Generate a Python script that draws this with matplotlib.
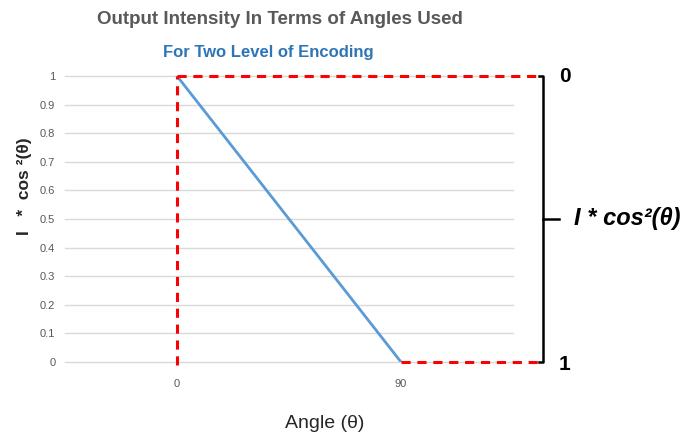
import matplotlib.pyplot as plt
import numpy as np

angles = ["0", "90"]
intensity = [1, 0]
y_ticks = [0, 0.1, 0.2, 0.3, 0.4, 0.5, 0.6, 0.7, 0.8, 0.9, 1]
level_labels = ["0", "1"]

plt.rcParams['font.family'] = ['Liberation Sans', 'DejaVu Sans']

fig = plt.figure(figsize=(6.92, 4.41), dpi=100)
ax = fig.add_axes([65 / 692, 1 - 362 / 441, 448 / 692, 286 / 441])

x = np.arange(len(angles))
ax.plot(x, intensity, color="#5b9bd5", lw=2, zorder=3)

ax.set_xlim(-0.5, 1.5)
ax.set_ylim(0, 1)
ax.set_xticks(x)
ax.set_xticklabels(angles)
ax.set_yticks(y_ticks)
ax.set_yticklabels([f"{v:g}" for v in y_ticks])
ax.tick_params(length=0, labelsize=8, colors="#595959", pad=7)
ax.tick_params(axis="x", pad=12)
ax.grid(axis="y", color="#d9d9d9", lw=1, clip_on=False)
ax.set_axisbelow(True)
for s in ax.spines.values():
    s.set_visible(False)

# red dashed guides for the two levels
x_end = 1.611
red = dict(color="red", lw=2.2, ls=(0, (3, 2.2)), clip_on=False, zorder=4)
ax.plot([x[0], x[0]], [intensity[1] - 0.01, intensity[0]], **red)
ax.plot([x[0], x_end], [intensity[0], intensity[0]], **red)
ax.plot([x[1], x_end], [intensity[1], intensity[1]], **red)

# bracket on the right
xb = 1.634
blk = dict(color="black", lw=1.8, clip_on=False)
ax.plot([xb - 0.02, xb, xb, xb - 0.02], [1, 1, 0, 0], **blk)
ax.plot([xb, xb + 0.07], [0.5, 0.5], **blk)
ax.text(xb + 0.07, intensity[0], level_labels[0], fontsize=15, fontweight="bold",
        va="center", ha="left", clip_on=False)
ax.text(xb + 0.07, intensity[1] - 0.01, level_labels[1], fontsize=15, fontweight="bold",
        va="center", ha="left", clip_on=False)
ax.text(xb + 0.14, 0.5, r"I * cos²(θ)", fontsize=17, fontweight="bold",
        style="italic", va="center", ha="left", clip_on=False)

fig.text(280 / 692, 1 - 20 / 441, "Output Intensity In Terms of Angles Used",
         ha="center", va="center", fontsize=13.5, color="#595959", fontweight="bold")
fig.text(268 / 692, 1 - 52 / 441, "For Two Level of Encoding",
         ha="center", va="center", fontsize=12, color="#2e75b6", fontweight="bold")

fig.text(25 / 692, 1 - 186 / 441, "I   *  cos ²(θ)", rotation=90, ha="center",
         va="center", fontsize=12.5, fontweight="bold", color="#262626")
fig.text(325 / 692, 1 - 424 / 441, "Angle (θ)", ha="center", va="center",
         fontsize=14, color="#262626")

fig.savefig("out.png", dpi=100)
